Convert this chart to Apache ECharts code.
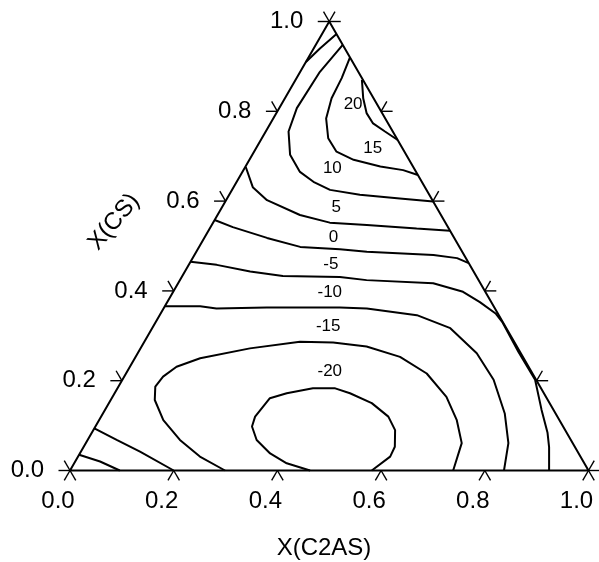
<!DOCTYPE html>
<html><head><meta charset="utf-8">
<script src="https://cdn.jsdelivr.net/npm/echarts@6/dist/echarts.min.js"></script>
<style>html,body{margin:0;padding:0;background:#fff}#c{width:599px;height:562px}</style>
</head><body><div id="c"></div>
<script>
// Ternary compositions: [X(C2AS), X(CS)]
const tickValues = [0, 0.2, 0.4, 0.6, 0.8, 1.0];
const tickLabels = ['0.0', '0.2', '0.4', '0.6', '0.8', '1.0'];
const triangle = [[0, 0], [1, 0], [0, 1], [0, 0]];

const contour20 = [[0.128,0.870],[0.151,0.829],[0.174,0.796],[0.198,0.773],[0.230,0.755],[0.264,0.736]];
const contour15 = [[0.080,0.920],[0.087,0.874],[0.090,0.829],[0.102,0.784],[0.128,0.740],[0.159,0.710],[0.201,0.692],[0.260,0.677],[0.308,0.669],[0.342,0.658]];
const contour10 = [[0.052,0.948],[0.038,0.888],[0.034,0.807],[0.044,0.755],[0.073,0.703],[0.111,0.665],[0.148,0.643],[0.189,0.625],[0.252,0.614],[0.333,0.606],[0.401,0.599]];
const contourApex = [[0.028,0.972],[0.012,0.940],[0.000,0.910]];
const contour5 = [[0.001,0.676],[0.037,0.631],[0.079,0.602],[0.159,0.569],[0.225,0.552],[0.299,0.547],[0.399,0.539],[0.466,0.534]];
const contour0 = [[0.000,0.558],[0.043,0.542],[0.121,0.518],[0.195,0.498],[0.274,0.493],[0.329,0.487],[0.461,0.480],[0.510,0.473],[0.538,0.462]];
const contourM5 = [[0.000,0.465],[0.054,0.458],[0.126,0.443],[0.194,0.433],[0.305,0.431],[0.360,0.424],[0.492,0.417],[0.559,0.398],[0.603,0.375],[0.647,0.349],[0.668,0.331],[0.733,0.264],[0.796,0.202],[0.842,0.135],[0.879,0.084],[0.898,0.052],[0.924,0.000]];
const contourM10 = [[0.000,0.366],[0.068,0.366],[0.102,0.361],[0.198,0.363],[0.339,0.363],[0.392,0.361],[0.496,0.346],[0.575,0.317],[0.654,0.261],[0.716,0.202],[0.775,0.127],[0.815,0.061],[0.837,0.000]];
const contourM15 = [[0.299,0.000],[0.235,0.031],[0.178,0.068],[0.124,0.112],[0.085,0.157],[0.071,0.187],[0.075,0.209],[0.090,0.231],[0.126,0.250],[0.211,0.272],[0.300,0.287],[0.365,0.285],[0.434,0.276],[0.510,0.253],[0.580,0.216],[0.644,0.164],[0.690,0.112],[0.725,0.061],[0.739,0.000]];
const contourM20 = [[0.463,0.000],[0.410,0.016],[0.367,0.038],[0.326,0.068],[0.302,0.098],[0.297,0.120],[0.305,0.161],[0.332,0.172],[0.377,0.183],[0.420,0.183],[0.454,0.172],[0.507,0.150],[0.554,0.120],[0.582,0.090],[0.600,0.053],[0.602,0.031],[0.582,0.000]];
const contourCornerOuter = [[0.000,0.094],[0.056,0.068],[0.114,0.042],[0.200,0.000]];
const contourCornerInner = [[0.000,0.035],[0.048,0.020],[0.096,0.000]];

const contourLabels = ['20', '15', '10', '5', '0', '-5', '-10', '-15', '-20'];
const contourLabelPos = [[0.138,0.816],[0.225,0.718],[0.169,0.674],[0.220,0.587],[0.248,0.520],[0.273,0.460],[0.303,0.396],[0.337,0.322],[0.390,0.222]];

const FONT = '"Liberation Sans", Arial, sans-serif';
function toXY(p) { return [p[0] + p[1] / 2, p[1]]; }

const contours = [
  ['20', contour20], ['15', contour15], ['10', contour10], ['apex', contourApex],
  ['5', contour5], ['0', contour0], ['-5', contourM5], ['-10', contourM10],
  ['-15', contourM15], ['-20', contourM20], ['cornerOuter', contourCornerOuter], ['cornerInner', contourCornerInner]
];

function lineSeries(name, pts, width) {
  return {
    type: 'line', name: name, data: pts.map(toXY), showSymbol: false, symbol: 'none',
    clip: false, silent: true, smooth: false,
    lineStyle: { color: '#000', width: width }
  };
}

const tickData = [];
[0, 1, 2].forEach(function (e) {
  tickValues.forEach(function (v, i) { tickData.push([e, v, i]); });
});

const series = [lineSeries('triangle', triangle, 2)];
contours.forEach(function (c) { series.push(lineSeries(c[0], c[1], 2)); });

series.push({
  type: 'custom', name: 'ticks', silent: true,
  dimensions: ['edge', 'val', 'idx'],
  data: tickData,
  renderItem: function (params, api) {
    const e = api.value(0), v = api.value(1), i = api.value(2);
    let comp;
    if (e === 0) comp = [v, 0]; else if (e === 1) comp = [0, v]; else comp = [1 - v, v];
    const p = api.coord(toXY(comp));
    const L = 11.5, s = 0.5 * L, h = 0.866 * L;
    let arms, label = null;
    if (e === 0) { arms = [[-s, h], [s, h]]; label = { x: p[0] - 12, y: p[1] + 31, align: 'center' }; }
    else if (e === 1) { arms = [[-L, 0], [-s, -h]]; label = { x: p[0] - 26, y: p[1], align: 'right' }; }
    else { arms = [[L, 0], [s, -h]]; }
    const children = arms.map(function (d) {
      return { type: 'line', shape: { x1: p[0], y1: p[1], x2: p[0] + d[0], y2: p[1] + d[1] },
        style: { stroke: '#000', lineWidth: 1.4 } };
    });
    if (label) {
      children.push({ type: 'text', style: { text: tickLabels[i], x: label.x, y: label.y,
        align: label.align, verticalAlign: 'middle', font: '24px ' + FONT, fill: '#000' } });
    }
    return { type: 'group', children: children };
  }
});

series.push({
  type: 'custom', name: 'contourLabels', silent: true,
  data: contourLabelPos.map(function (p, i) { return toXY(p).concat([i]); }),
  dimensions: ['x', 'y', 'idx'],
  renderItem: function (params, api) {
    const p = api.coord([api.value(0), api.value(1)]);
    return { type: 'text', style: { text: contourLabels[api.value(2)], x: p[0], y: p[1],
      align: 'center', verticalAlign: 'middle', font: '17px ' + FONT, fill: '#000' } };
  }
});

const chart = echarts.init(document.getElementById('c'), null, { renderer: 'canvas' });
chart.setOption({
  animation: false,
  backgroundColor: '#fff',
  grid: { left: 70, top: 21.5, width: 518.5, height: 449, containLabel: false, outerBoundsMode: 'none' },
  xAxis: { type: 'value', min: 0, max: 1, show: false },
  yAxis: { type: 'value', min: 0, max: 1, show: false },
  graphic: [
    { type: 'text', x: 324, y: 548, style: { text: 'X(C2AS)', font: '24px ' + FONT, align: 'center', verticalAlign: 'middle', fill: '#000' } },
    { type: 'text', x: 114, y: 222, rotation: 50 * Math.PI / 180, style: { text: 'X(CS)', font: '24px ' + FONT, align: 'center', verticalAlign: 'middle', fill: '#000' } }
  ],
  series: series
});
</script>
</body></html>
